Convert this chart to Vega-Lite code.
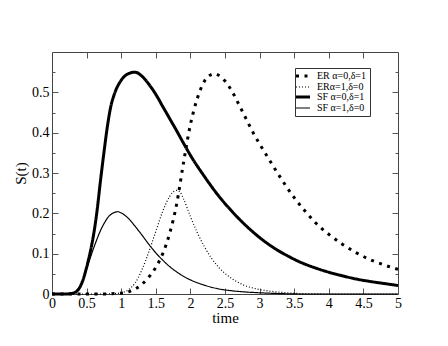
{
  "$schema": "https://vega.github.io/schema/vega-lite/v6.json",
  "width": 346,
  "height": 242,
  "autosize": {"type": "none"},
  "padding": {"left": 52, "top": 52, "right": 50, "bottom": 52},
  "background": "white",
  "config": {
    "view": {"stroke": "#444", "strokeWidth": 1},
    "font": "Liberation Serif",
    "axis": {
      "domain": false,
      "grid": false,
      "tickColor": "#555",
      "tickWidth": 1,
      "labelColor": "black",
      "labelFont": "Liberation Serif",
      "labelFontSize": 14,
      "titleFont": "Liberation Serif",
      "titleFontSize": 15,
      "titleFontWeight": "normal",
      "titleColor": "black"
    },
    "legend": {
      "orient": "none",
      "legendX": 243,
      "legendY": 16,
      "strokeColor": "#333",
      "padding": 3,
      "symbolType": "stroke",
      "symbolStrokeColor": "black",
      "symbolSize": 196,
      "labelFont": "Liberation Serif",
      "labelFontSize": 10,
      "labelColor": "black",
      "labelOffset": 9,
      "rowPadding": -3,
      "fillColor": "white"
    }
  },
  "data": {
    "values": [
      {"s": "SF  α=0,δ=1", "t": 0, "v": 0},
      {"s": "SF  α=0,δ=1", "t": 0.1, "v": 0},
      {"s": "SF  α=0,δ=1", "t": 0.2, "v": 0},
      {"s": "SF  α=0,δ=1", "t": 0.3, "v": 0.002},
      {"s": "SF  α=0,δ=1", "t": 0.35, "v": 0.006},
      {"s": "SF  α=0,δ=1", "t": 0.4, "v": 0.016},
      {"s": "SF  α=0,δ=1", "t": 0.45, "v": 0.036},
      {"s": "SF  α=0,δ=1", "t": 0.5, "v": 0.066},
      {"s": "SF  α=0,δ=1", "t": 0.55, "v": 0.102},
      {"s": "SF  α=0,δ=1", "t": 0.6, "v": 0.146},
      {"s": "SF  α=0,δ=1", "t": 0.65, "v": 0.205},
      {"s": "SF  α=0,δ=1", "t": 0.7, "v": 0.28},
      {"s": "SF  α=0,δ=1", "t": 0.75, "v": 0.35},
      {"s": "SF  α=0,δ=1", "t": 0.8, "v": 0.415},
      {"s": "SF  α=0,δ=1", "t": 0.85, "v": 0.465},
      {"s": "SF  α=0,δ=1", "t": 0.9, "v": 0.495},
      {"s": "SF  α=0,δ=1", "t": 1.0, "v": 0.53},
      {"s": "SF  α=0,δ=1", "t": 1.1, "v": 0.546},
      {"s": "SF  α=0,δ=1", "t": 1.2, "v": 0.55},
      {"s": "SF  α=0,δ=1", "t": 1.3, "v": 0.54},
      {"s": "SF  α=0,δ=1", "t": 1.4, "v": 0.52},
      {"s": "SF  α=0,δ=1", "t": 1.5, "v": 0.495},
      {"s": "SF  α=0,δ=1", "t": 1.6, "v": 0.465},
      {"s": "SF  α=0,δ=1", "t": 1.7, "v": 0.435},
      {"s": "SF  α=0,δ=1", "t": 1.8, "v": 0.405},
      {"s": "SF  α=0,δ=1", "t": 1.9, "v": 0.374},
      {"s": "SF  α=0,δ=1", "t": 2.0, "v": 0.344},
      {"s": "SF  α=0,δ=1", "t": 2.2, "v": 0.292},
      {"s": "SF  α=0,δ=1", "t": 2.4, "v": 0.245},
      {"s": "SF  α=0,δ=1", "t": 2.6, "v": 0.205},
      {"s": "SF  α=0,δ=1", "t": 2.8, "v": 0.17},
      {"s": "SF  α=0,δ=1", "t": 3.0, "v": 0.14},
      {"s": "SF  α=0,δ=1", "t": 3.2, "v": 0.115},
      {"s": "SF  α=0,δ=1", "t": 3.4, "v": 0.095},
      {"s": "SF  α=0,δ=1", "t": 3.6, "v": 0.078},
      {"s": "SF  α=0,δ=1", "t": 3.8, "v": 0.065},
      {"s": "SF  α=0,δ=1", "t": 4.0, "v": 0.054},
      {"s": "SF  α=0,δ=1", "t": 4.2, "v": 0.045},
      {"s": "SF  α=0,δ=1", "t": 4.4, "v": 0.037},
      {"s": "SF  α=0,δ=1", "t": 4.6, "v": 0.031},
      {"s": "SF  α=0,δ=1", "t": 4.8, "v": 0.026},
      {"s": "SF  α=0,δ=1", "t": 5.0, "v": 0.021},

      {"s": "SF  α=1,δ=0", "t": 0, "v": 0},
      {"s": "SF  α=1,δ=0", "t": 0.1, "v": 0},
      {"s": "SF  α=1,δ=0", "t": 0.2, "v": 0},
      {"s": "SF  α=1,δ=0", "t": 0.3, "v": 0.002},
      {"s": "SF  α=1,δ=0", "t": 0.35, "v": 0.006},
      {"s": "SF  α=1,δ=0", "t": 0.4, "v": 0.016},
      {"s": "SF  α=1,δ=0", "t": 0.45, "v": 0.035},
      {"s": "SF  α=1,δ=0", "t": 0.5, "v": 0.062},
      {"s": "SF  α=1,δ=0", "t": 0.55, "v": 0.088},
      {"s": "SF  α=1,δ=0", "t": 0.6, "v": 0.113},
      {"s": "SF  α=1,δ=0", "t": 0.65, "v": 0.136},
      {"s": "SF  α=1,δ=0", "t": 0.7, "v": 0.157},
      {"s": "SF  α=1,δ=0", "t": 0.75, "v": 0.174},
      {"s": "SF  α=1,δ=0", "t": 0.8, "v": 0.188},
      {"s": "SF  α=1,δ=0", "t": 0.85, "v": 0.197},
      {"s": "SF  α=1,δ=0", "t": 0.9, "v": 0.202},
      {"s": "SF  α=1,δ=0", "t": 0.95, "v": 0.204},
      {"s": "SF  α=1,δ=0", "t": 1.0, "v": 0.201},
      {"s": "SF  α=1,δ=0", "t": 1.1, "v": 0.188},
      {"s": "SF  α=1,δ=0", "t": 1.2, "v": 0.168},
      {"s": "SF  α=1,δ=0", "t": 1.3, "v": 0.146},
      {"s": "SF  α=1,δ=0", "t": 1.4, "v": 0.123},
      {"s": "SF  α=1,δ=0", "t": 1.5, "v": 0.102},
      {"s": "SF  α=1,δ=0", "t": 1.6, "v": 0.084},
      {"s": "SF  α=1,δ=0", "t": 1.7, "v": 0.068},
      {"s": "SF  α=1,δ=0", "t": 1.8, "v": 0.055},
      {"s": "SF  α=1,δ=0", "t": 1.9, "v": 0.044},
      {"s": "SF  α=1,δ=0", "t": 2.0, "v": 0.035},
      {"s": "SF  α=1,δ=0", "t": 2.2, "v": 0.022},
      {"s": "SF  α=1,δ=0", "t": 2.4, "v": 0.013},
      {"s": "SF  α=1,δ=0", "t": 2.6, "v": 0.008},
      {"s": "SF  α=1,δ=0", "t": 2.8, "v": 0.005},
      {"s": "SF  α=1,δ=0", "t": 3.0, "v": 0.003},
      {"s": "SF  α=1,δ=0", "t": 3.3, "v": 0.001},
      {"s": "SF  α=1,δ=0", "t": 3.6, "v": 0},
      {"s": "SF  α=1,δ=0", "t": 4.0, "v": 0},
      {"s": "SF  α=1,δ=0", "t": 5.0, "v": 0},

      {"s": "ERα=1,δ=0", "t": 0, "v": 0},
      {"s": "ERα=1,δ=0", "t": 0.5, "v": 0},
      {"s": "ERα=1,δ=0", "t": 0.8, "v": 0},
      {"s": "ERα=1,δ=0", "t": 0.9, "v": 0.001},
      {"s": "ERα=1,δ=0", "t": 1.0, "v": 0.003},
      {"s": "ERα=1,δ=0", "t": 1.1, "v": 0.01},
      {"s": "ERα=1,δ=0", "t": 1.2, "v": 0.027},
      {"s": "ERα=1,δ=0", "t": 1.3, "v": 0.06},
      {"s": "ERα=1,δ=0", "t": 1.4, "v": 0.105},
      {"s": "ERα=1,δ=0", "t": 1.5, "v": 0.155},
      {"s": "ERα=1,δ=0", "t": 1.6, "v": 0.205},
      {"s": "ERα=1,δ=0", "t": 1.7, "v": 0.242},
      {"s": "ERα=1,δ=0", "t": 1.75, "v": 0.253},
      {"s": "ERα=1,δ=0", "t": 1.8, "v": 0.257},
      {"s": "ERα=1,δ=0", "t": 1.85, "v": 0.253},
      {"s": "ERα=1,δ=0", "t": 1.9, "v": 0.236},
      {"s": "ERα=1,δ=0", "t": 2.0, "v": 0.192},
      {"s": "ERα=1,δ=0", "t": 2.1, "v": 0.152},
      {"s": "ERα=1,δ=0", "t": 2.2, "v": 0.118},
      {"s": "ERα=1,δ=0", "t": 2.3, "v": 0.09},
      {"s": "ERα=1,δ=0", "t": 2.4, "v": 0.068},
      {"s": "ERα=1,δ=0", "t": 2.5, "v": 0.051},
      {"s": "ERα=1,δ=0", "t": 2.6, "v": 0.038},
      {"s": "ERα=1,δ=0", "t": 2.7, "v": 0.028},
      {"s": "ERα=1,δ=0", "t": 2.8, "v": 0.02},
      {"s": "ERα=1,δ=0", "t": 2.9, "v": 0.015},
      {"s": "ERα=1,δ=0", "t": 3.0, "v": 0.011},
      {"s": "ERα=1,δ=0", "t": 3.2, "v": 0.006},
      {"s": "ERα=1,δ=0", "t": 3.4, "v": 0.003},
      {"s": "ERα=1,δ=0", "t": 3.6, "v": 0.001},
      {"s": "ERα=1,δ=0", "t": 4.0, "v": 0},
      {"s": "ERα=1,δ=0", "t": 4.5, "v": 0},
      {"s": "ERα=1,δ=0", "t": 5.0, "v": 0},

      {"s": "ER α=0,δ=1", "t": 0, "v": 0},
      {"s": "ER α=0,δ=1", "t": 0.5, "v": 0},
      {"s": "ER α=0,δ=1", "t": 0.8, "v": 0},
      {"s": "ER α=0,δ=1", "t": 0.9, "v": 0.001},
      {"s": "ER α=0,δ=1", "t": 1.0, "v": 0.002},
      {"s": "ER α=0,δ=1", "t": 1.1, "v": 0.005},
      {"s": "ER α=0,δ=1", "t": 1.2, "v": 0.012},
      {"s": "ER α=0,δ=1", "t": 1.3, "v": 0.024},
      {"s": "ER α=0,δ=1", "t": 1.4, "v": 0.042},
      {"s": "ER α=0,δ=1", "t": 1.5, "v": 0.066},
      {"s": "ER α=0,δ=1", "t": 1.6, "v": 0.1},
      {"s": "ER α=0,δ=1", "t": 1.7, "v": 0.15},
      {"s": "ER α=0,δ=1", "t": 1.8, "v": 0.222},
      {"s": "ER α=0,δ=1", "t": 1.9, "v": 0.325},
      {"s": "ER α=0,δ=1", "t": 2.0, "v": 0.42},
      {"s": "ER α=0,δ=1", "t": 2.1, "v": 0.485},
      {"s": "ER α=0,δ=1", "t": 2.2, "v": 0.527},
      {"s": "ER α=0,δ=1", "t": 2.3, "v": 0.544},
      {"s": "ER α=0,δ=1", "t": 2.35, "v": 0.546},
      {"s": "ER α=0,δ=1", "t": 2.4, "v": 0.543},
      {"s": "ER α=0,δ=1", "t": 2.5, "v": 0.528},
      {"s": "ER α=0,δ=1", "t": 2.6, "v": 0.503},
      {"s": "ER α=0,δ=1", "t": 2.7, "v": 0.47},
      {"s": "ER α=0,δ=1", "t": 2.8, "v": 0.436},
      {"s": "ER α=0,δ=1", "t": 2.9, "v": 0.402},
      {"s": "ER α=0,δ=1", "t": 3.0, "v": 0.372},
      {"s": "ER α=0,δ=1", "t": 3.1, "v": 0.344},
      {"s": "ER α=0,δ=1", "t": 3.2, "v": 0.316},
      {"s": "ER α=0,δ=1", "t": 3.3, "v": 0.289},
      {"s": "ER α=0,δ=1", "t": 3.4, "v": 0.263},
      {"s": "ER α=0,δ=1", "t": 3.5, "v": 0.239},
      {"s": "ER α=0,δ=1", "t": 3.6, "v": 0.217},
      {"s": "ER α=0,δ=1", "t": 3.7, "v": 0.197},
      {"s": "ER α=0,δ=1", "t": 3.8, "v": 0.178},
      {"s": "ER α=0,δ=1", "t": 3.9, "v": 0.162},
      {"s": "ER α=0,δ=1", "t": 4.0, "v": 0.148},
      {"s": "ER α=0,δ=1", "t": 4.2, "v": 0.123},
      {"s": "ER α=0,δ=1", "t": 4.4, "v": 0.102},
      {"s": "ER α=0,δ=1", "t": 4.6, "v": 0.085},
      {"s": "ER α=0,δ=1", "t": 4.8, "v": 0.072},
      {"s": "ER α=0,δ=1", "t": 5.0, "v": 0.061}
    ]
  },
  "resolve": {"axis": {"x": "independent", "y": "independent"}},
  "layer": [
    {
      "mark": {"type": "point", "opacity": 0},
      "encoding": {
        "x": {"field": "t", "type": "quantitative", "scale": {"domain": [0, 5], "nice": false},
              "axis": {"orient": "top", "values": [0.5, 1, 1.5, 2, 2.5, 3, 3.5, 4, 4.5], "labels": false, "tickSize": -6, "title": null}},
        "y": {"field": "v", "type": "quantitative", "scale": {"domain": [0, 0.6], "nice": false},
              "axis": {"orient": "right", "values": [0.1, 0.2, 0.3, 0.4, 0.5], "labels": false, "tickSize": -6, "title": null}}
      }
    },
    {
      "mark": {"type": "point", "opacity": 0},
      "encoding": {
        "x": {"field": "t", "type": "quantitative", "axis": null},
        "y": {"field": "v", "type": "quantitative",
              "axis": {"orient": "left", "values": [0.05, 0.15, 0.25, 0.35, 0.45, 0.55], "labels": false, "tickSize": -3, "title": null}}
      }
    },
    {
      "mark": {"type": "point", "opacity": 0},
      "encoding": {
        "x": {"field": "t", "type": "quantitative", "axis": null},
        "y": {"field": "v", "type": "quantitative",
              "axis": {"orient": "right", "values": [0.05, 0.15, 0.25, 0.35, 0.45, 0.55], "labels": false, "tickSize": -3, "title": null}}
      }
    },
    {
      "mark": {"type": "line", "interpolate": "monotone", "color": "black"},
      "encoding": {
        "x": {"field": "t", "type": "quantitative", "title": "time",
              "axis": {"orient": "bottom", "values": [0, 0.5, 1, 1.5, 2, 2.5, 3, 3.5, 4, 4.5, 5], "format": "~g", "tickSize": -6, "labelPadding": 8, "titlePadding": 0, "labelFlush": false, "labelOverlap": false}},
        "y": {"field": "v", "type": "quantitative", "title": "S(t)",
              "axis": {"orient": "left", "values": [0, 0.1, 0.2, 0.3, 0.4, 0.5], "format": "~g", "tickSize": -6, "labelPadding": 9, "titlePadding": 3, "labelFlush": false, "labelOverlap": false}},
        "strokeDash": {"field": "s", "type": "nominal",
              "scale": {"domain": ["ER α=0,δ=1", "ERα=1,δ=0", "SF  α=0,δ=1", "SF  α=1,δ=0"], "range": [[3, 5.5], [1, 2], [1, 0], [1, 0]]},
              "legend": {"title": null,
                "encode": {"symbols": {"update": {"strokeWidth": {"signal": "(datum.value === 'ER α=0,δ=1' || datum.value === 'SF  α=0,δ=1') ? 3 : 1.2"}}}}}},
        "strokeWidth": {"condition": {"test": "datum.s === 'ER α=0,δ=1' || datum.s === 'SF  α=0,δ=1'", "value": 3}, "value": 1.2}
      }
    }
  ]
}
